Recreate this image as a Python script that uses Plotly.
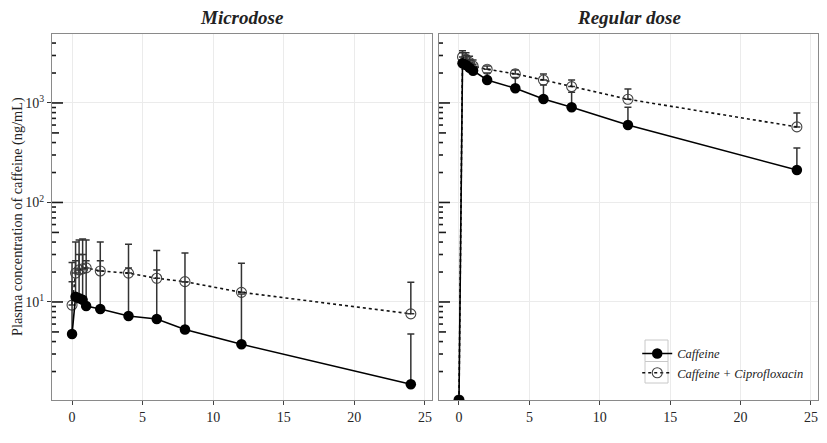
import math
import plotly.graph_objects as go

# ---------------- data ----------------
time_h = [0, 0.25, 0.5, 0.75, 1, 2, 4, 6, 8, 12, 24]

micro_caffeine = [4.76, 11.3, 10.9, 10.5, 9.1, 8.5, 7.24, 6.75, 5.3, 3.76, 1.49]
micro_caffeine_upper = [16, 26, 30, 30, 26, 26, 22, 21, 16, 12, 4.77]
micro_cipro = [9.3, 19.5, 21, 21.5, 22, 20.5, 19.5, 17.3, 16, 12.5, 7.6]
micro_cipro_upper = [25, 40, 42, 43, 42, 40, 38, 33, 31, 24.5, 15.8]

regular_caffeine = [0, 2510, 2410, 2260, 2110, 1700, 1405, 1097, 905, 600, 212]
regular_caffeine_upper = [None, 3200, 3000, 2700, 2450, 2000, 1800, 1515, 1280, 905, 352]
regular_cipro = [0, 2900, 2750, 2550, 2350, 2180, 1960, 1700, 1460, 1090, 575]
regular_cipro_upper = [None, 3350, 3200, 2950, 2700, 2350, 2150, 1960, 1700, 1380, 794]

panel_titles = ["Microdose", "Regular dose"]
series_names = ["Caffeine", "Caffeine + Ciprofloxacin"]
x_tick_vals = [0, 5, 10, 15, 20, 25]
y_tick_vals = [10, 100, 1000]
y_tick_text = ["10<sup>1</sup>", "10<sup>2</sup>", "10<sup>3</sup>"]
y_title = "Plasma concentration of caffeine (ng/mL)"

# ---------------- style / layout ----------------
FONT = "Liberation Serif"
OFF = 8                      # page body margin offset
W, H = 827 - OFF, 443 - OFF
ML, MR, MT, MB = 52 - OFF, 9, 34 - OFF, 43
PW = W - ML - MR
PH = H - MT - MB
LEFT_DOM = [0, 380 / PW]
RIGHT_DOM = [387 / PW, 1]
XR = [-1.42, 25.5]
YLOG = [0.015, 3.693]
FLOOR = 10 ** YLOG[0]


def shown(vals):
    # zero concentrations are drawn at the lower panel edge (like -Inf in ggplot)
    return [FLOOR if v <= 0 else v for v in vals]


def err_up(mean, upper):
    return [None if u is None else u - m for m, u in zip(mean, upper)]


fig = go.Figure()

panels = [
    ("x", "y", micro_caffeine, micro_caffeine_upper, micro_cipro, micro_cipro_upper, False),
    ("x2", "y2", regular_caffeine, regular_caffeine_upper, regular_cipro, regular_cipro_upper, True),
]

for xa, ya, caf, caf_up, cip, cip_up, legend in panels:
    fig.add_trace(go.Scatter(
        x=time_h, y=shown(cip), xaxis=xa, yaxis=ya, name=series_names[1],
        mode="lines+markers", showlegend=legend, legendrank=2,
        line=dict(color="#111111", width=1.6, dash="dot"),
        marker=dict(symbol="circle-open", size=10, color="#444444", line=dict(width=1.1)),
        error_y=dict(type="data", symmetric=False, array=err_up(cip, cip_up),
                     arrayminus=[0] * len(cip), color="#333333", thickness=1.5, width=3.5),
    ))
    fig.add_trace(go.Scatter(
        x=time_h, y=shown(caf), xaxis=xa, yaxis=ya, name=series_names[0],
        mode="lines+markers", showlegend=legend, legendrank=1,
        line=dict(color="#000000", width=1.6),
        marker=dict(symbol="circle", size=10.5, color="#000000"),
        error_y=dict(type="data", symmetric=False, array=err_up(caf, caf_up),
                     arrayminus=[0] * len(caf), color="#333333", thickness=1.5, width=3.5),
    ))

axis_common = dict(showline=True, mirror=True, linecolor="#8a8a8a", linewidth=1,
                   zeroline=False, gridcolor="#ebebeb", gridwidth=1)
xcommon = dict(axis_common, range=XR, tickvals=x_tick_vals, ticks="outside", ticklen=4,
               tickcolor="#444444", tickfont=dict(family=FONT, size=14, color="#262626"))

fig.update_layout(
    width=W, height=H,
    margin=dict(l=ML, r=MR, t=MT, b=MB, autoexpand=False),
    paper_bgcolor="white", plot_bgcolor="white",
    font=dict(family=FONT, color="#222222"),
    xaxis=dict(xcommon, domain=LEFT_DOM, anchor="y"),
    xaxis2=dict(xcommon, domain=RIGHT_DOM, anchor="y2"),
    yaxis=dict(axis_common, type="log", range=YLOG, tickvals=y_tick_vals, ticktext=y_tick_text,
               ticks="outside", ticklen=4, tickcolor="#333333",
               tickfont=dict(family=FONT, size=14, color="#262626"), anchor="x"),
    yaxis2=dict(axis_common, type="log", range=YLOG, tickvals=y_tick_vals,
                showticklabels=False, ticks="", anchor="x2", matches="y"),
    showlegend=True,
    legend=dict(x=0.764, y=0.167, xanchor="left", yanchor="top", bgcolor="rgba(0,0,0,0)",
                font=dict(family=FONT, size=12.5, color="#222222", style="italic"),
                tracegroupgap=0, itemwidth=30),
)


def px_to_paper_x(px):
    return (px - OFF - ML) / PW


def px_to_paper_y(py):
    return (H - MB - (py - OFF)) / PH


# log ticks inside each panel (annotation_logticks style)
shapes = []
for xref, yref, dom in [("x domain", "y", LEFT_DOM), ("x2 domain", "y2", RIGHT_DOM)]:
    pw = (dom[1] - dom[0]) * PW
    for k in range(0, 4):
        for m in range(1, 10):
            v = m * 10 ** k
            lv = math.log10(v)
            if lv < YLOG[0] or lv > YLOG[1]:
                continue
            length = 11 if m == 1 else (7 if m == 5 else 4)
            shapes.append(dict(type="line", xref=xref, yref=yref, x0=0, x1=length / pw,
                               y0=v, y1=v, line=dict(color="#1a1a1a", width=1.6)))

# legend key boxes
for top, bot in [(340, 361.5), (361.5, 383)]:
    shapes.append(dict(type="rect", xref="paper", yref="paper",
                       x0=px_to_paper_x(645), x1=px_to_paper_x(668),
                       y0=px_to_paper_y(bot), y1=px_to_paper_y(top),
                       line=dict(color="#c8c8c8", width=1), fillcolor="rgba(0,0,0,0)", layer="below"))
fig.update_layout(shapes=shapes)

annotations = [
    dict(text=f"<b><i>{panel_titles[0]}</i></b>", x=(LEFT_DOM[0] + LEFT_DOM[1]) / 2, y=1,
         xref="paper", yref="paper", xanchor="center", yanchor="bottom", yshift=4,
         showarrow=False, font=dict(family=FONT, size=19, color="#222222")),
    dict(text=f"<b><i>{panel_titles[1]}</i></b>", x=(RIGHT_DOM[0] + RIGHT_DOM[1]) / 2, y=1,
         xref="paper", yref="paper", xanchor="center", yanchor="bottom", yshift=4,
         showarrow=False, font=dict(family=FONT, size=19, color="#222222")),
    dict(text=y_title, x=px_to_paper_x(17), y=0.5, xref="paper", yref="paper",
         xanchor="center", yanchor="middle", textangle=-90, showarrow=False,
         font=dict(family=FONT, size=14.3, color="#222222")),
]
fig.update_layout(annotations=annotations)

fig.write_html("out.html")
